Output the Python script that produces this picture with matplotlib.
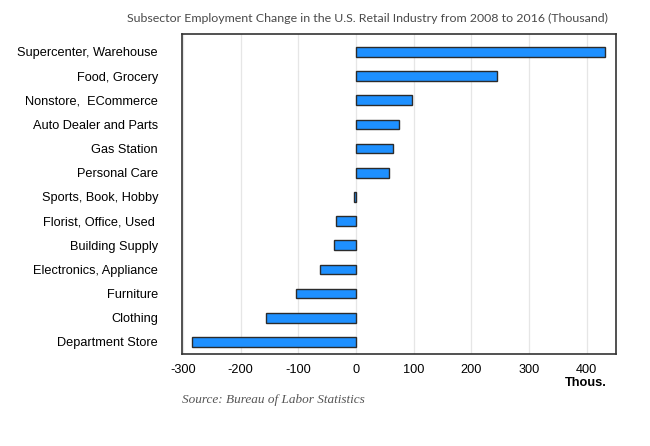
import matplotlib
matplotlib.use("Agg")
import matplotlib.pyplot as plt

categories = ["Department Store", "Clothing", "Furniture", "Electronics, Appliance",
              "Building Supply", "Florist, Office, Used ", "Sports, Book, Hobby",
              "Personal Care", "Gas Station", "Auto Dealer and Parts",
              "Nonstore,  ECommerce", "Food, Grocery", "Supercenter, Warehouse"]
values = [-284, -155, -103, -62, -38, -35, -3, 57, 65, 74, 98, 245, 432]
xticks = [-300, -200, -100, 0, 100, 200, 300, 400]

fig = plt.figure(figsize=(6.5, 4.46), dpi=100)
ax = fig.add_axes([0.2795, 0.2063, 0.6675, 0.7175])

y = list(range(len(categories)))
ax.barh(y, values, height=0.4, color="#1E90FF", edgecolor="#2b2b2b", linewidth=1.0, zorder=3)
ax.set_xlim(-302, 450)
ax.set_ylim(-0.5, 12.74)
ax.set_yticks(y)
ax.set_yticklabels(categories, family="Liberation Sans", fontsize=9.2, color="black")
ax.set_xticks(xticks)
ax.set_xticklabels([str(t) for t in xticks], family="Liberation Sans", fontsize=9.2)
ax.tick_params(axis="both", length=0)
ax.tick_params(axis="y", pad=17)
ax.tick_params(axis="x", pad=7)
ax.grid(axis="x", color="#e6e6e6", linewidth=0.9, zorder=0)
for s in ax.spines.values():
    s.set_color("#333333")
    s.set_linewidth(1.2)

fig.text(0.902, 0.142, "Thous.", family="Liberation Sans", fontsize=9.2, fontweight="bold",
         ha="center", va="center")
fig.text(0.565, 0.958, "Subsector Employment Change in the U.S. Retail Industry from 2008 to 2016 (Thousand)",
         family="Lato", fontsize=8.9, color="#4a4a4a", ha="center", va="center")
fig.text(0.2795, 0.103, "Source: Bureau of Labor Statistics", family="Liberation Serif",
         style="italic", fontsize=9.5, color="#555555", ha="left", va="center")

fig.savefig("out.png", dpi=100)
